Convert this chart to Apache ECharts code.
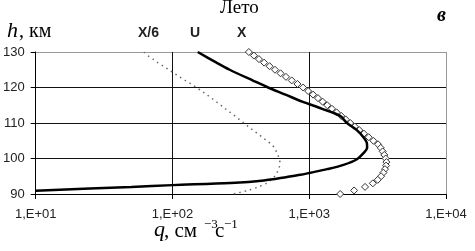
<!DOCTYPE html>
<html>
<head>
<meta charset="utf-8">
<script src="https://cdn.jsdelivr.net/npm/echarts@6/dist/echarts.min.js"></script>
<style>
html,body{margin:0;padding:0;background:#fff;}
#chart{width:475px;height:251px;}
</style>
</head>
<body>
<div id="chart"></div>
<script>
// Heights (km) for X and X/6 series
const heights = [130,129,128,127,126,125,124,123,122,121,120,119,118,117,116,115,114,113,112,111,110,109,108,107,106,105,104,103,102,101,100,99,98,97,96,95,94,93,92,91,90];
// X values (cm^-3 s^-1)
const xValues = [362,394,429,468,513,562,617,676,745,820,902,982,1067,1159,1253,1355,1466,1585,1714,1849,1995,2153,2323,2512,2723,2944,3184,3334,3443,3540,3622,3664,3648,3581,3483,3350,3170,2917,2559,2128,1683];
// X/6 values
const x6Values = [62,66,72,78,86,94,103,113,124,137,150,164,178,193,209,226,244,264,286,308,333,359,387,419,454,490,530,556,574,590,603,610,608,597,580,558,528,486,427,355,280];
// U profile
const uQ = [153,210,262,385,500,670,890,1245,1683,1890,2230,2490,2640,2650,2490,2230,1780,1350,1020,861,689,466,266,100,50,10];
const uH = [130,127,125,122,120,118,116,114,112,110,108,106,104.3,103,101.5,99.8,98.2,97,96,95.4,94.8,93.8,93.1,92.5,92,90.9];
// Axis ticks
const xTicks = [10,100,1000,10000];
const yTicks = [90,100,110,120,130];

const chart = echarts.init(document.getElementById('chart'), null, {renderer:'canvas'});
const serif = '"Liberation Serif","Times New Roman",serif';
const sans = '"Liberation Sans",Arial,sans-serif';

const option = {
  animation:false,
  backgroundColor:'#fff',
  grid:{left:34,right:29,top:52,bottom:57},
  xAxis:{
    type:'log', logBase:10, min:xTicks[0], max:xTicks[xTicks.length-1],
    axisLine:{show:true,lineStyle:{color:'#000',width:1}},
    axisTick:{show:true,length:5,lineStyle:{color:'#000'}},
    axisLabel:{margin:14,fontFamily:sans,fontSize:13,color:'#222',
      formatter:v=>'1,E+'+String(Math.round(Math.log10(v))).padStart(2,'0')},
    splitLine:{show:true,lineStyle:{color:['#000','#111','#111','#999'],width:1}}
  },
  yAxis:{
    type:'value', min:yTicks[0], max:yTicks[yTicks.length-1], interval:10,
    axisLine:{show:true,lineStyle:{color:'#000',width:1}},
    axisTick:{show:true,length:5,lineStyle:{color:'#000'}},
    axisLabel:{margin:11,fontFamily:sans,fontSize:13,color:'#222'},
    splitLine:{show:true,lineStyle:{color:['#000','#111','#111','#111','#999'],width:1}}
  },
  series:[
    {
      name:'X/6', type:'line', showSymbol:false, smooth:0.3,
      data:x6Values.map((q,i)=>[q,heights[i]]),
      lineStyle:{color:'#666',width:1.5,type:[1.5,4]}
    },
    {
      name:'U', type:'line', showSymbol:false, smooth:0.3,
      data:uQ.map((q,i)=>[q,uH[i]]),
      lineStyle:{color:'#000',width:2.5}
    },
    {
      name:'X', type:'scatter', symbol:'diamond', symbolSize:7,
      data:xValues.map((q,i)=>[q,heights[i]]),
      itemStyle:{color:'#fff',borderColor:'#333',borderWidth:1,opacity:1}
    }
  ],
  graphic:[
    {type:'text',x:220,y:-1,style:{text:'Лето',font:'19px '+serif,fill:'#000'}},
    {type:'text',x:437,y:6,style:{text:'в',font:'italic bold 20px '+serif,fill:'#000'}},
    {type:'text',x:7,y:20,style:{text:'h',font:'italic 22px '+serif,fill:'#000'}},
    {type:'text',x:19,y:22,style:{text:', км',font:'20px '+serif,fill:'#000'}},
    {type:'text',x:138,y:26,style:{text:'X/6',font:'bold 14px '+sans,fill:'#222'}},
    {type:'text',x:190,y:26,style:{text:'U',font:'bold 14px '+sans,fill:'#222'}},
    {type:'text',x:237,y:26,style:{text:'X',font:'bold 14px '+sans,fill:'#222'}},
    {type:'text',x:154,y:219,style:{text:'q',font:'italic 22px '+serif,fill:'#000'}},
    {type:'text',x:164,y:221,style:{text:', см',font:'21px '+serif,fill:'#000'}},
    {type:'text',x:204,y:218,style:{text:'−3',font:'13px '+serif,fill:'#000'}},
    {type:'text',x:215,y:221,style:{text:'с',font:'21px '+serif,fill:'#000'}},
    {type:'text',x:224,y:218,style:{text:'−1',font:'13px '+serif,fill:'#000'}}
  ]
};
chart.setOption(option);
</script>
</body>
</html>
